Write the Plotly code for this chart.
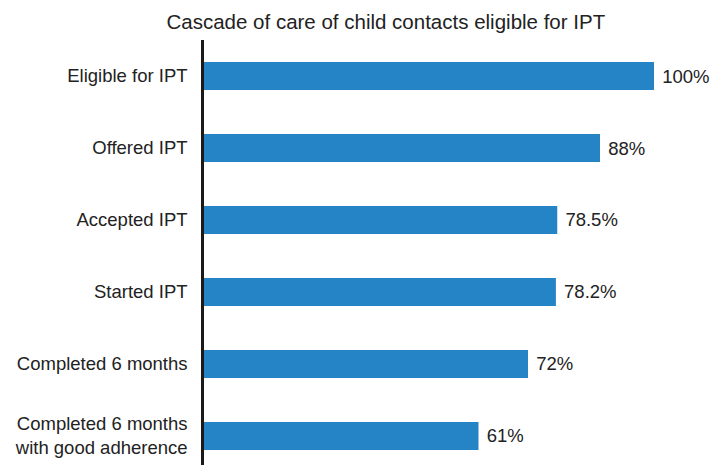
import plotly.graph_objects as go

categories = ["Eligible for IPT", "Offered IPT", "Accepted IPT", "Started IPT",
              "Completed 6 months", "Completed 6 months<br>with good adherence"]
values = [100, 88, 78.5, 78.2, 72, 61]
value_labels = ["100%", "88%", "78.5%", "78.2%", "72%", "61%"]

fig = go.Figure(go.Bar(
    x=values, y=categories, orientation="h",
    marker=dict(color="#2484c6", line=dict(width=0)),
    width=0.39,
    text=[" " + t for t in value_labels], textposition="outside",
    textfont=dict(family="Liberation Sans, Arial, sans-serif", size=18.5, color="#222222"),
    cliponaxis=False,
))

# page body has an 8px default margin, so the figure is drawn 8px smaller
fig.update_layout(
    template="none",
    width=717, height=457,
    margin=dict(l=196, r=0, t=32, b=0, autoexpand=False),
    paper_bgcolor="white", plot_bgcolor="white",
    font=dict(family="Liberation Sans, Arial, sans-serif", size=18.5, color="#222222"),
    title=dict(text="Cascade of care of child contacts eligible for IPT",
               x=0.527, xanchor="center", y=0.969, yanchor="middle",
               font=dict(size=20.5, color="#222222")),
    showlegend=False,
    bargap=0.61,
)
fig.update_xaxes(range=[0, 521 / 4.5], visible=False, showgrid=False, zeroline=False,
                 automargin=False)
fig.update_yaxes(type="category", categoryorder="array", categoryarray=categories,
                 range=[5.403, -0.5], showgrid=False, zeroline=False,
                 showline=True, linecolor="#1a1a1a", linewidth=2.5,
                 ticks="", ticklabelstandoff=10, automargin=False)

fig.write_html("out.html")
